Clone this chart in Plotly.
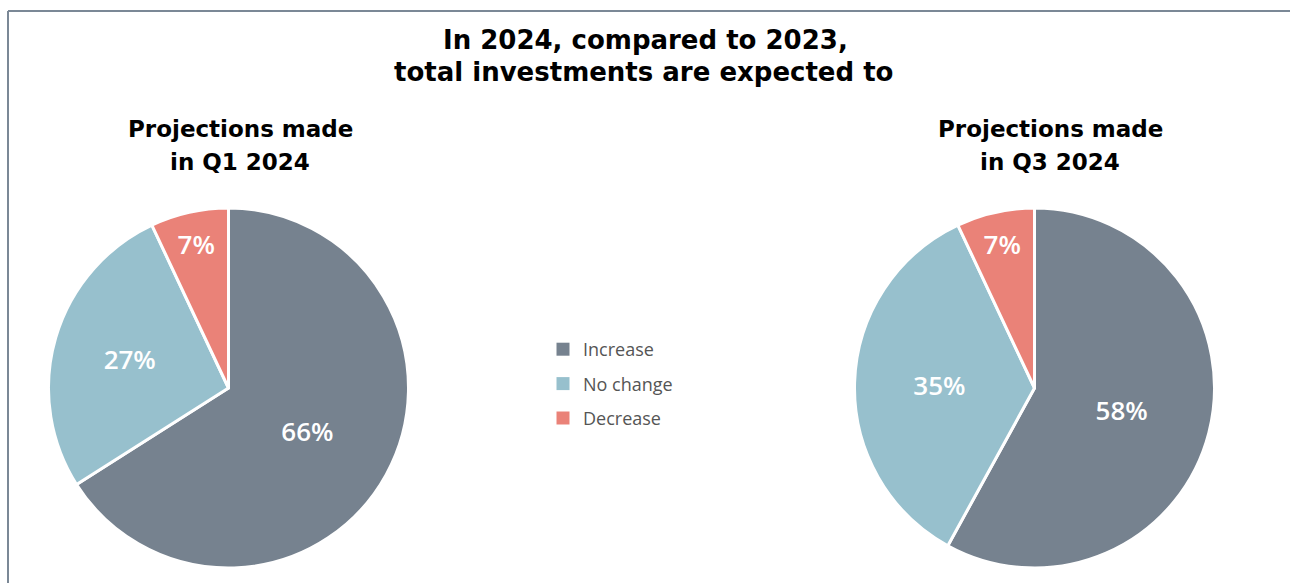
import plotly.graph_objects as go

# Survey answers: expected change in total investments, 2024 vs 2023
categories = ["Increase", "No change", "Decrease"]
q1_values = [66, 27, 7]
q3_values = [58, 35, 7]
colors = ["#76828f", "#97c0cd", "#ea8278"]

W, H = 1290, 583


def px_x(v):
    return v / W


def px_y(v):
    return 1 - v / H


def make_pie(values, x0, x1):
    return go.Pie(
        labels=categories,
        values=values,
        sort=False,
        direction="clockwise",
        rotation=0,
        marker=dict(colors=colors, line=dict(color="white", width=3)),
        texttemplate="%{value}%",
        textposition="inside",
        insidetextorientation="horizontal",
        textfont=dict(family="Open Sans", size=26, color="white", weight=600),
        hoverinfo="label+value",
        domain=dict(x=[px_x(x0), px_x(x1)], y=[px_y(568), px_y(208)]),
        showlegend=False,
    )


fig = go.Figure()
fig.add_trace(make_pie(q1_values, 48, 409))
fig.add_trace(make_pie(q3_values, 854, 1215))

# Legend entries: one square swatch per category, spaced apart as groups
for name, color in zip(categories, colors):
    fig.add_trace(go.Scatter(
        x=[None], y=[None], mode="markers", name=name, legendgroup=name,
        marker=dict(symbol="square", size=13, color=color),
        hoverinfo="skip",
    ))

title_font = dict(family="DejaVu Sans", size=26, color="black", weight="bold")
sub_font = dict(family="DejaVu Sans", size=23, color="black", weight="bold")


def text_ann(text, x, y, font):
    return dict(text=f"<b>{text}</b>", x=px_x(x), y=px_y(y), xref="paper", yref="paper",
                xanchor="center", yanchor="middle", showarrow=False, font=font)


annotations = [
    text_ann("In 2024, compared to 2023,", 645, 40, title_font),
    text_ann("total investments are expected to", 643, 72, title_font),
    text_ann("Projections made", 240, 129, sub_font),
    text_ann("in Q1 2024", 240, 162, sub_font),
    text_ann("Projections made", 1050, 129, sub_font),
    text_ann("in Q3 2024", 1050, 162, sub_font),
]

fig.update_layout(
    width=W,
    height=H,
    margin=dict(l=0, r=0, t=0, b=0),
    paper_bgcolor="white",
    plot_bgcolor="white",
    xaxis=dict(visible=False),
    yaxis=dict(visible=False),
    annotations=annotations,
    legend=dict(
        x=px_x(543), y=px_y(384), xanchor="left", yanchor="middle",
        font=dict(family="Open Sans", size=18, color="#555555"),
        bgcolor="rgba(0,0,0,0)",
        tracegroupgap=8,
        traceorder="grouped",
    ),
    shapes=[
        dict(type="line", xref="paper", yref="paper",
             x0=px_x(8), x1=1.01, y0=px_y(11), y1=px_y(11),
             line=dict(color="#7b8896", width=2)),
        dict(type="line", xref="paper", yref="paper",
             x0=px_x(8), x1=px_x(8), y0=px_y(11), y1=-0.01,
             line=dict(color="#7b8896", width=2)),
    ],
)

fig.write_html("out.html")
